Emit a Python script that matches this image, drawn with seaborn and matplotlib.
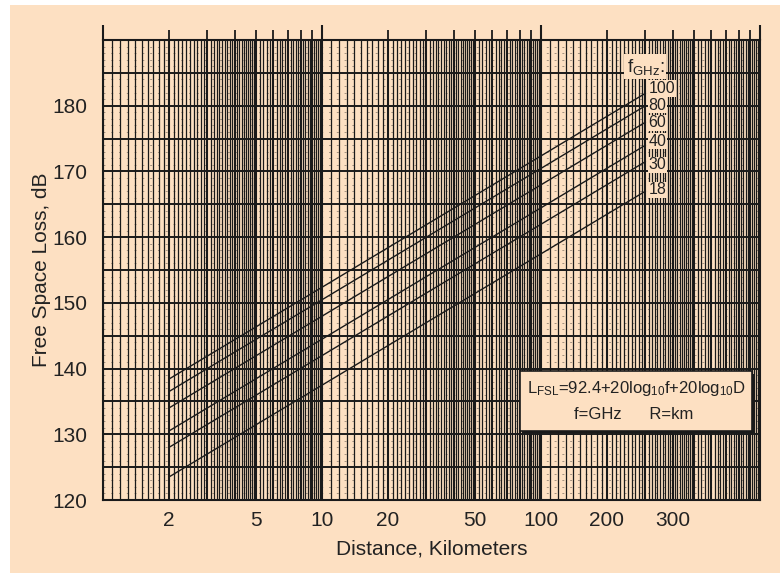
import numpy as np
import pandas as pd
import seaborn as sns
import matplotlib.pyplot as plt
from matplotlib.patches import Rectangle

# Data: free space loss lines, start (2 km) and end (300 km)
distance_km = [2, 300]
freqs_ghz = ["100", "80", "60", "40", "30", "18"]
loss_100 = [138.4, 181.9]
loss_80 = [136.5, 180.0]
loss_60 = [134.0, 177.5]
loss_40 = [130.5, 174.0]
loss_30 = [128.0, 171.5]
loss_18 = [123.5, 167.0]

x_ticks = [2, 5, 10, 20, 50, 100, 200, 400]
x_ticklabels = ["2", "5", "10", "20", "50", "100", "200", "300"]
y_ticks = [120, 130, 140, 150, 160, 170, 180]

# the end labels are spread a bit apart from the line ends
label_shift = [0.7, 0.1, -0.1, 0.6, -0.5, 0.2]

PEACH = "#fde0c2"
INK = "#1a1a1a"
TXT = "#222222"

series = [loss_100, loss_80, loss_60, loss_40, loss_30, loss_18]
rows = []
for f, vals in zip(freqs_ghz, series):
    for d, v in zip(distance_km, vals):
        rows.append({"freq": f, "distance": d, "loss": v})
df = pd.DataFrame(rows)

sns.set_theme(style="ticks")
plt.rcParams["font.family"] = ["Liberation Sans", "DejaVu Sans"]
plt.rcParams["mathtext.fontset"] = "custom"
plt.rcParams["mathtext.rm"] = "Liberation Sans"
plt.rcParams["mathtext.it"] = "Liberation Sans"

fig = plt.figure(figsize=(7.8, 5.73), dpi=100, facecolor="white")
fig.patches.append(Rectangle((10 / 780, 0), 1, 1 - 5 / 573, transform=fig.transFigure,
                             facecolor=PEACH, edgecolor="none", zorder=-10))
ax = fig.add_axes([103 / 780, 73 / 573, 657 / 780, 460 / 573])
ax.set_facecolor(PEACH)
ax.set_xscale("log")
ax.set_xlim(1, 1000)
ax.set_ylim(120, 190)

# log paper grid
for dec in [1, 10, 100]:
    subs = np.concatenate([np.arange(1, 5, 0.1), np.arange(5, 10, 0.2)])
    for v in np.round(subs, 1):
        x = v * dec
        if v == int(v):
            ax.axvline(x, color=INK, lw=1.5, zorder=1)
        else:
            ax.axvline(x, color=INK, lw=0.9, zorder=1)
for y in range(120, 191):
    if y % 5 == 0:
        ax.axhline(y, color=INK, lw=1.4, zorder=1)
    else:
        ax.axhline(y, color=INK, lw=0.7, ls=(0, (2, 6)), alpha=0.4, zorder=1)

sns.lineplot(data=df, x="distance", y="loss", units="freq", estimator=None,
             color=INK, lw=1.0, legend=False, ax=ax, zorder=3)

# frequency labels at the line ends
for f, vals, dy in zip(freqs_ghz, series, label_shift):
    ax.text(distance_km[-1] * 1.03, vals[-1] + dy, f, fontsize=11.5, color=TXT,
            ha="left", va="center", zorder=6,
            bbox=dict(boxstyle="square,pad=0.05", fc=PEACH, ec="none"))
ax.text(0.797, 0.942, r"f$_\mathrm{GHz}$:", transform=ax.transAxes, fontsize=13.5,
        color=TXT, ha="left", va="center", zorder=5,
        bbox=dict(boxstyle="square,pad=0.12", fc=PEACH, ec="none"))

# formula box
ax.add_patch(Rectangle((0.638, 0.145), 0.353, 0.13, transform=ax.transAxes,
                       fc=INK, ec="none", zorder=6))
ax.add_patch(Rectangle((0.635, 0.15), 0.353, 0.13, transform=ax.transAxes,
                       fc=PEACH, ec=INK, lw=1.2, zorder=7))
ax.text(0.8115, 0.243, r"L$_\mathrm{FSL}$=92.4+20log$_\mathrm{10}$f+20log$_\mathrm{10}$D",
        transform=ax.transAxes, fontsize=12, color=TXT, ha="center", va="center", zorder=8)
ax.text(0.807, 0.185, "f=GHz      R=km", transform=ax.transAxes, fontsize=12,
        color=TXT, ha="center", va="center", zorder=8)

ax.set_xticks(x_ticks)
ax.set_xticklabels(x_ticklabels)
ax.xaxis.set_minor_locator(plt.NullLocator())
ax.set_yticks(y_ticks)
ax.tick_params(axis="both", length=0, labelsize=15, colors=TXT)
ax.tick_params(axis="x", pad=8)
ax.tick_params(axis="y", pad=11)
ax.set_xlabel("Distance, Kilometers", fontsize=15, color=TXT, labelpad=7)
ax.set_ylabel("Free Space Loss, dB", fontsize=15, color=TXT, labelpad=1)

# top ticks at every integer of each decade
top = ax.secondary_xaxis("top")
top.set_xticks([1, 10, 100, 1000])
top.set_xticks([v * d for d in [1, 10, 100] for v in range(2, 10)], minor=True)
top.tick_params(which="major", length=11, width=1.5, color=INK, labeltop=False)
top.tick_params(which="minor", length=7, width=1.3, color=INK, labeltop=False)
top.spines["top"].set_visible(False)

for s in ax.spines.values():
    s.set_color(INK)
    s.set_linewidth(1.5)

fig.savefig("out.png", dpi=100, facecolor="white")
